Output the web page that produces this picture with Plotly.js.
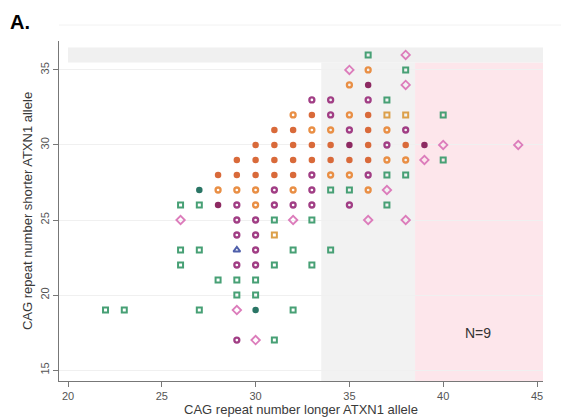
<!DOCTYPE html>
<html>
<head>
<meta charset="utf-8">
<script src="https://cdn.plot.ly/plotly-3.0.1.min.js"></script>
<style>html,body{margin:0;padding:0;background:#fff;}#chart{width:561px;height:419px;}</style>
</head>
<body>
<div id="chart"></div>
<script>
// Orange filled circles
const orangeFilledX = [33,36, 31,32,36, 30,31,32,33,34,36,38, 29,30,31,32,33,34,35,36, 28,29,30,31,32];
const orangeFilledY = [32,32, 31,31,31, 30,30,30,30,30,30,30, 29,29,29,29,29,29,29,29, 28,28,28,28,28];
// Orange hollow circles
const orangeRingX = [36, 35, 32,35, 33,34,37, 37,38, 34,35, 28,29,30,32,36, 30];
const orangeRingY = [35, 34, 32,32, 31,31,31, 29,29, 28,28, 27,27,27,27,27, 26];
// Purple hollow circles
const purpleRingX = [33,34,36, 34, 35,38, 37, 33,36, 31,33, 29,31,32,33,35, 29,30, 29,30, 30, 29,30, 29];
const purpleRingY = [33,33,33, 32, 31,31, 30, 28,28, 27,27, 26,26,26,26,26, 25,25, 24,24, 23, 22,22, 17];
// Dark purple filled circles
const purpleFilledX = [36, 35,39, 28];
const purpleFilledY = [34, 30,30, 26];
// Pink hollow diamonds
const pinkDiamondX = [38, 35, 38, 40,44, 39, 37, 26,32,36,38, 29, 30];
const pinkDiamondY = [36, 35, 34, 30,30, 29, 27, 25,25,25,25, 19, 17];
// Green hollow squares
const greenSquareX = [36, 38, 37, 40, 40, 37,38, 34,35, 26,27,37, 31,33, 26,27,32,34, 26,31,33, 28,29,30, 29,30, 22,23,27,32, 31];
const greenSquareY = [36, 35, 33, 32, 29, 28,28, 27,27, 26,26,26, 25,25, 23,23,23,23, 22,22,22, 21,21,21, 20,20, 19,19,19,19, 17];
// Teal filled circles
const tealFilledX = [27, 30];
const tealFilledY = [27, 19];
// Gold hollow squares
const goldSquareX = [37,38, 31];
const goldSquareY = [32,32, 24];
// Blue hollow triangles
const blueTriangleX = [29];
const blueTriangleY = [23];

const yTicks = [15,20,25,30,35];
const xTicks = [20,25,30,35,40,45];

function tr(x, y, symbol, color, size, lw){
  return {x:x, y:y, type:'scatter', mode:'markers', hoverinfo:'skip',
    marker:{symbol:symbol, size:size, color:color, line:{color:color, width:lw}}};
}

const data = [
  tr(greenSquareX, greenSquareY, 'square-open', '#47a075', 5, 2),
  tr(goldSquareX, goldSquareY, 'square-open', '#dca04a', 5, 2),
  tr(blueTriangleX, blueTriangleY, 'triangle-up-open', '#4f5faa', 6, 2),
  tr(pinkDiamondX, pinkDiamondY, 'diamond-open', '#dc7cbb', 6.5, 1.8),
  tr(purpleRingX, purpleRingY, 'circle-open', '#a13e85', 5, 2.3),
  tr(orangeRingX, orangeRingY, 'circle-open', '#e98f45', 5, 2.3),
  tr(orangeFilledX, orangeFilledY, 'circle', '#d96a3a', 6.5, 0),
  tr(purpleFilledX, purpleFilledY, 'circle', '#8d2a62', 6.5, 0),
  tr(tealFilledX, tealFilledY, 'circle', '#2a7565', 6.5, 0)
];

const layout = {
  width:561, height:419,
  margin:{l:59, r:18, t:41, b:38},
  paper_bgcolor:'#ffffff', plot_bgcolor:'#ffffff',
  showlegend:false,
  font:{family:'Liberation Sans, Arial, sans-serif', color:'#444'},
  xaxis:{range:[19.52,45.32], tickvals:xTicks, ticktext:xTicks.map(String),
    showgrid:false, zeroline:false, showline:true, linecolor:'#777', linewidth:1,
    ticks:'outside', ticklen:5, tickcolor:'#777', tickfont:{size:11, color:'#555'},
    title:{text:'CAG repeat number longer ATXN1 allele', font:{size:13, color:'#3a3a3a'}, standoff:1},
    automargin:false},
  yaxis:{range:[14.27,36.93], tickvals:yTicks, ticktext:yTicks.map(String), tickangle:-90,
    showgrid:true, gridcolor:'#f0f0f0', gridwidth:1, zeroline:false, showline:true, linecolor:'#777', linewidth:1,
    ticks:'outside', ticklen:5, tickcolor:'#777', tickfont:{size:11, color:'#555'},
    title:{text:'CAG repeat number shorter ATXN1 allele', font:{size:13, color:'#3a3a3a'}, standoff:3},
    automargin:false},
  shapes:[
    {type:'rect', layer:'between', xref:'x', yref:'y', x0:20, x1:45.32, y0:35.5, y1:36.5, fillcolor:'#f0f0f0', line:{width:0}},
    {type:'rect', layer:'between', xref:'x', yref:'paper', x0:33.5, x1:38.5, y0:0, y1:(35.5-14.27)/(36.93-14.27), fillcolor:'#f2f2f2', line:{width:0}},
    {type:'rect', layer:'between', xref:'x', yref:'paper', x0:38.5, x1:45.32, y0:0, y1:(35.5-14.27)/(36.93-14.27), fillcolor:'#fde6eb', line:{width:0}},
    {type:'line', xref:'paper', yref:'paper', x0:0, x1:1.05, y0:(381-25)/340, y1:(381-25)/340, line:{color:'#f2f2f2', width:1}}
  ],
  annotations:[
    {text:'<b>A.</b>', xref:'paper', yref:'paper', x:(8-59)/484, y:(381-22)/340, xanchor:'left', yanchor:'middle', showarrow:false, font:{size:20, color:'#000', family:'Liberation Sans, Arial, sans-serif'}},
    {text:'N=9', xref:'x', yref:'y', x:41.85, y:17.45, showarrow:false, font:{size:14, color:'#333'}}
  ]
};

Plotly.newPlot('chart', data, layout, {staticPlot:true, displayModeBar:false});
</script>
</body>
</html>
